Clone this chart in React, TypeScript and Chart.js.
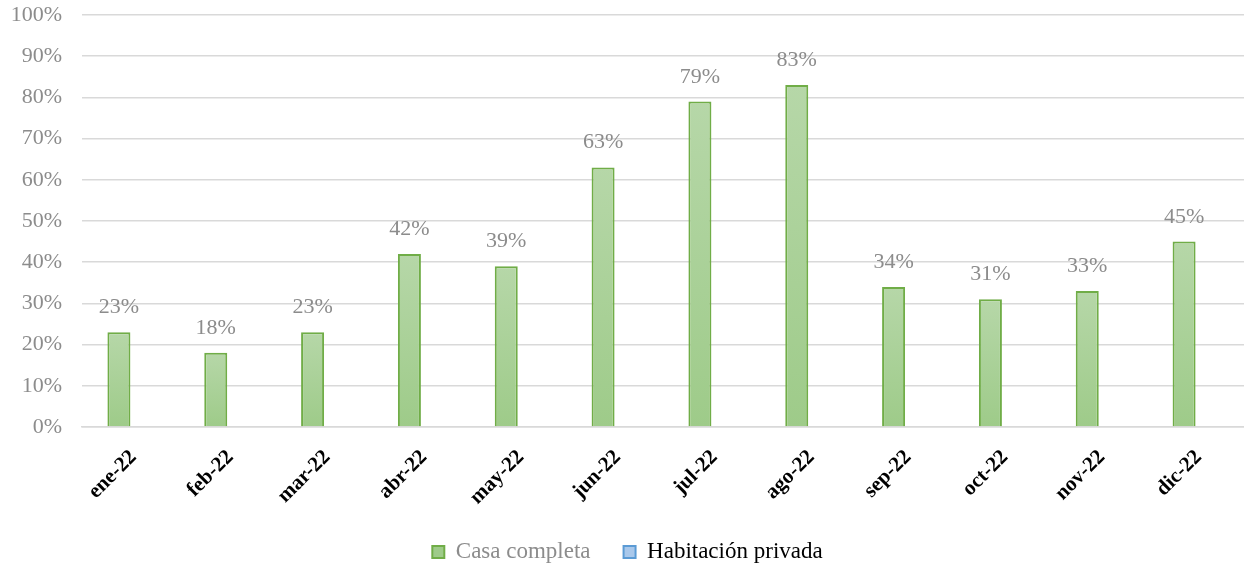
import React, { useEffect, useRef } from "react";
import { Chart, registerables } from "chart.js";

Chart.register(...registerables);

const categories = ["ene-22", "feb-22", "mar-22", "abr-22", "may-22", "jun-22", "jul-22", "ago-22", "sep-22", "oct-22", "nov-22", "dic-22"];
const casaCompleta = [23, 18, 23, 42, 39, 63, 79, 83, 34, 31, 33, 45];
const habitacionPrivada: (number | null)[] = [null, null, null, null, null, null, null, null, null, null, null, null];
const seriesNames = ["Casa completa", "Habitación privada"];

const FONT = "'Liberation Serif', 'DejaVu Serif', serif";

const dataLabelPlugin = {
  id: "dataLabels",
  afterDatasetsDraw(chart: any) {
    const ctx = chart.ctx;
    const meta = chart.getDatasetMeta(0);
    ctx.save();
    ctx.font = `22px ${FONT}`;
    ctx.fillStyle = "#8c8c8c";
    ctx.textAlign = "center";
    ctx.textBaseline = "alphabetic";
    meta.data.forEach((bar: any, i: number) => {
      const v = casaCompleta[i];
      ctx.fillText(`${v}%`, bar.x, bar.y - 19);
    });
    ctx.restore();
  },
};

export default function App() {
  const ref = useRef<HTMLCanvasElement>(null);
  useEffect(() => {
    document.body.style.margin = "0";
    const canvas = ref.current!;
    const chart = new Chart(canvas, {
      type: "bar",
      data: {
        labels: categories,
        datasets: [
          {
            label: seriesNames[0],
            data: casaCompleta,
            categoryPercentage: 0.475,
            barPercentage: 1,
            borderColor: "#70ad47",
            borderWidth: 2,
            backgroundColor: (c: any) => {
              const chart = c.chart;
              const area = chart.chartArea;
              if (!area || c.dataIndex === undefined) return "#a9d18e";
              const y = chart.scales.y;
              const top = y.getPixelForValue(casaCompleta[c.dataIndex] ?? 0);
              const bottom = y.getPixelForValue(0);
              if (!isFinite(top) || !isFinite(bottom) || top === bottom) return "#a9d18e";
              const g = chart.ctx.createLinearGradient(0, top, 0, bottom);
              g.addColorStop(0, "#b6d7a8");
              g.addColorStop(1, "#9ecb89");
              return g;
            },
          } as any,
          {
            label: seriesNames[1],
            data: habitacionPrivada,
            categoryPercentage: 0.475,
            barPercentage: 1,
            borderColor: "#5b9bd5",
            borderWidth: 2,
            backgroundColor: "#a9c8eb",
          } as any,
        ],
      },
      options: {
        animation: false,
        responsive: true,
        maintainAspectRatio: false,
        layout: { padding: { left: 11, right: 0, top: 15, bottom: -6.5 } },
        scales: {
          x: {
            grid: { display: false, drawTicks: false },
            border: { display: true, color: "#d9d9d9", width: 1.5 },
            ticks: {
              color: "#000000",
              font: { family: FONT, size: 21, weight: "bold" },
              minRotation: 45,
              maxRotation: 45,
              padding: 18,
              labelOffset: 3,
            },
            afterFit: (s: any) => {
              s.height = 80.5;
              s.paddingLeft = 0;
              s.paddingRight = 0;
            },
          },
          y: {
            min: 0,
            max: 100,
            grid: { color: "#d9d9d9", lineWidth: 1.5, drawTicks: false },
            border: { display: false },
            ticks: {
              stepSize: 10,
              color: "#8c8c8c",
              font: { family: FONT, size: 22 },
              padding: 20,
              callback: (v: any) => `${v}%`,
            },
            afterFit: (s: any) => {
              s.width = 71;
              s.paddingTop = 0;
              s.paddingBottom = 0;
            },
          },
        },
        plugins: {
          tooltip: { enabled: false },
          legend: {
            position: "bottom",
            labels: {
              boxWidth: 12,
              boxHeight: 12,
              padding: 33,
              font: { family: FONT, size: 23 },
              generateLabels: (chart: any) => {
                const items = Chart.defaults.plugins.legend.labels.generateLabels(chart);
                return items.map((it: any, i: number) => ({
                  ...it,
                  fontColor: i === 0 ? "#8c8c8c" : "#000000",
                }));
              },
            },
          },
        },
      },
      plugins: [dataLabelPlugin],
    });
    return () => chart.destroy();
  }, []);
  return (
    <div style={{ width: 1244, height: 567, position: "relative", background: "#fff" }}>
      <canvas ref={ref} />
    </div>
  );
}
